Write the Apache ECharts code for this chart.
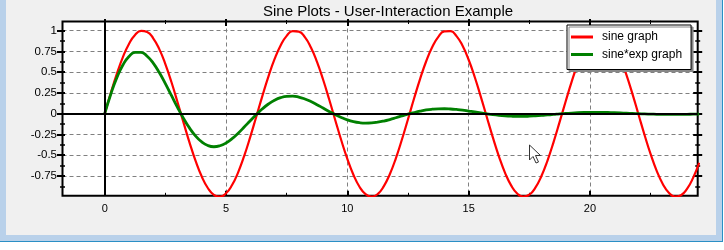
<!DOCTYPE html>
<html>
<head>
<meta charset="utf-8">
<script src="https://cdn.jsdelivr.net/npm/echarts@6/dist/echarts.min.js"></script>
<style>
html,body{margin:0;padding:0;background:#f0f0f0;}
#chart{width:724px;height:250px;}
</style>
</head>
<body>
<div id="chart"></div>
<script>
// ---- data ----
const xValues = [0,0.25,0.5,0.75,1,1.25,1.5,1.75,2,2.25,2.5,2.75,3,3.25,3.5,3.75,4,4.25,4.5,4.75,5,5.25,5.5,5.75,6,6.25,6.5,6.75,7,7.25,7.5,7.75,8,8.25,8.5,8.75,9,9.25,9.5,9.75,10,10.25,10.5,10.75,11,11.25,11.5,11.75,12,12.25,12.5,12.75,13,13.25,13.5,13.75,14,14.25,14.5,14.75,15,15.25,15.5,15.75,16,16.25,16.5,16.75,17,17.25,17.5,17.75,18,18.25,18.5,18.75,19,19.25,19.5,19.75,20,20.25,20.5,20.75,21,21.25,21.5,21.75,22,22.25,22.5,22.75,23,23.25,23.5,23.75,24,24.25,24.5];
const sineValues = [0,0.247,0.479,0.682,0.841,0.949,0.997,0.984,0.909,0.778,0.598,0.382,0.141,-0.108,-0.351,-0.572,-0.757,-0.895,-0.978,-0.999,-0.959,-0.859,-0.706,-0.508,-0.279,-0.033,0.215,0.450,0.657,0.823,0.938,0.995,0.989,0.923,0.798,0.625,0.412,0.174,-0.075,-0.320,-0.544,-0.735,-0.880,-0.970,-1.000,-0.968,-0.875,-0.729,-0.537,-0.311,-0.066,0.183,0.420,0.632,0.804,0.926,0.991,0.994,0.935,0.818,0.650,0.442,0.206,-0.042,-0.288,-0.516,-0.712,-0.863,-0.961,-1.000,-0.976,-0.891,-0.751,-0.564,-0.342,-0.099,0.150,0.390,0.605,0.784,0.913,0.986,0.996,0.946,0.837,0.675,0.471,0.239,-0.009,-0.256,-0.487,-0.688,-0.846,-0.952,-0.998,-0.982,-0.906,-0.773,-0.591];
const sineExpValues = [0,0.235,0.434,0.587,0.689,0.739,0.739,0.693,0.610,0.496,0.363,0.220,0.077,-0.056,-0.174,-0.270,-0.340,-0.383,-0.398,-0.386,-0.353,-0.301,-0.235,-0.161,-0.084,-0.010,0.059,0.117,0.162,0.193,0.209,0.211,0.200,0.177,0.146,0.109,0.068,0.027,-0.011,-0.045,-0.074,-0.095,-0.108,-0.113,-0.111,-0.102,-0.088,-0.070,-0.049,-0.027,-0.005,0.014,0.031,0.045,0.054,0.059,0.060,0.057,0.051,0.043,0.032,0.021,0.009,-0.002,-0.012,-0.020,-0.026,-0.030,-0.032,-0.032,-0.030,-0.026,-0.021,-0.015,-0.009,-0.002,0.003,0.008,0.012,0.015,0.017,0.017,0.017,0.015,0.013,0.010,0.006,0.003,0.000,-0.003,-0.005,-0.007,-0.009,-0.009,-0.009,-0.009,-0.007,-0.006,-0.004];
const seriesNames = ['sine graph', 'sine*exp graph'];
const titleText = 'Sine Plots - User-Interaction Example';
const xMajorTicks = [0,5,10,15,20];
const xMinorTicks = [2.5,7.5,12.5,17.5,22.5];
const yMajorTicks = [-0.75,-0.5,-0.25,0,0.25,0.5,0.75,1];
const yMinorTicks = [-0.875,-0.625,-0.375,-0.125,0.125,0.375,0.625,0.875];
const xRange = [-1.739, 24.44];
const yRange = [-0.989, 1.111];

const sineData = xValues.map((x, i) => [x, sineValues[i]]);
const sineExpData = xValues.map((x, i) => [x, sineExpValues[i]]);

const FONT = 'Liberation Sans';
const black = '#000';

function xAxisDef(pos, ticks, opts) {
  return Object.assign({
    type: 'value', position: pos, min: xRange[0], max: xRange[1], gridIndex: 0,
    axisLine: { show: false, onZero: false },
    axisTick: { show: true, customValues: ticks, inside: false, length: 5, lineStyle: { color: black, width: 2 } },
    axisLabel: { show: false },
    splitLine: { show: false }
  }, opts || {});
}
function yAxisDef(pos, ticks, opts) {
  return Object.assign({
    type: 'value', position: pos, min: yRange[0], max: yRange[1], gridIndex: 0,
    axisLine: { show: false, onZero: false },
    axisTick: { show: true, customValues: ticks, inside: false, length: 5, lineStyle: { color: black, width: 2 } },
    axisLabel: { show: false },
    splitLine: { show: false }
  }, opts || {});
}

const chart = echarts.init(document.getElementById('chart'), null, { renderer: 'canvas' });
chart.setOption({
  backgroundColor: '#f0f0f0',
  animation: false,
  title: {
    text: titleText, left: 383, top: -1, textAlign: 'center',
    textStyle: { fontFamily: FONT, fontSize: 15, fontWeight: 'normal', color: black }
  },
  grid: {
    left: 62.5, top: 21.5, width: 635.2, height: 174.3,
    show: true, backgroundColor: '#fff', borderColor: black, borderWidth: 2
  },
  legend: {
    data: seriesNames, orient: 'vertical', left: 567, top: 25,
    icon: 'rect', itemWidth: 22, itemHeight: 3, itemGap: 3.5,
    padding: [5, 9, 8, 4],
    backgroundColor: '#fff', borderColor: black, borderWidth: 1,
    shadowColor: '#888', shadowOffsetX: 2, shadowOffsetY: 2, shadowBlur: 0,
    textStyle: { fontFamily: FONT, fontSize: 12, color: black, lineHeight: 14, padding: [0, 0, 0, 4] }
  },
  xAxis: [
    xAxisDef('bottom', xMajorTicks, {
      axisTick: { show: true, customValues: xMajorTicks, inside: true, length: 5, lineStyle: { color: black, width: 2 } },
      axisLabel: { show: true, customValues: xMajorTicks, margin: 8, fontFamily: FONT, fontSize: 11, color: black },
      splitLine: { show: true, lineStyle: { color: '#808080', width: 1, type: [4, 3] } }
    }),
    xAxisDef('bottom', xMinorTicks, {
      axisTick: { show: true, customValues: xMinorTicks, inside: true, length: 3, lineStyle: { color: black, width: 1 } }
    }),
    xAxisDef('top', xMajorTicks, { offset: -4.5,
      axisTick: { show: true, customValues: xMajorTicks, length: 7, lineStyle: { color: black, width: 2 } } }),
    xAxisDef('top', xMinorTicks, { offset: -2.5,
      axisTick: { show: true, customValues: xMinorTicks, length: 4, lineStyle: { color: black, width: 1 } } })
  ],
  yAxis: [
    yAxisDef('left', yMajorTicks, { offset: -2.5,
      axisTick: { show: true, customValues: yMajorTicks, length: 8, lineStyle: { color: black, width: 2 } },
      axisLabel: { show: true, customValues: yMajorTicks, margin: 8, fontFamily: FONT, fontSize: 11.5, color: black },
      splitLine: { show: true, lineStyle: { color: '#808080', width: 1, type: [4, 3] } }
    }),
    yAxisDef('left', yMinorTicks, { offset: -2.5,
      axisTick: { show: true, customValues: yMinorTicks, length: 5, lineStyle: { color: black, width: 1.5 } } }),
    yAxisDef('right', yMajorTicks, { offset: -4.5,
      axisTick: { show: true, customValues: yMajorTicks, length: 9, lineStyle: { color: black, width: 2 } } }),
    yAxisDef('right', yMinorTicks, { offset: -2.5,
      axisTick: { show: true, customValues: yMinorTicks, length: 5, lineStyle: { color: black, width: 1.5 } } })
  ],
  series: [
    {
      name: seriesNames[0], type: 'line', data: sineData, smooth: true, showSymbol: false,
      xAxisIndex: 0, yAxisIndex: 0, clip: true,
      itemStyle: { color: '#ff0000' }, lineStyle: { color: '#ff0000', width: 2.2 }, z: 3
    },
    {
      name: seriesNames[1], type: 'line', data: sineExpData, smooth: true, showSymbol: false,
      xAxisIndex: 0, yAxisIndex: 0, clip: true,
      itemStyle: { color: '#008000' }, lineStyle: { color: '#008000', width: 2.8 }, z: 4,
      markLine: {
        silent: true, symbol: 'none', animation: false, z: 6,
        label: { show: false },
        lineStyle: { color: black, width: 2, type: 'solid' },
        data: [{ xAxis: 0 }, { yAxis: 0 }]
      }
    }
  ],
  graphic: [
    { type: 'rect', shape: { x: 0, y: 0, width: 6, height: 241 }, style: { fill: '#b9d1ea' }, silent: true },
    { type: 'rect', shape: { x: 716, y: 0, width: 6, height: 241 }, style: { fill: '#b9d1ea' }, silent: true },
    { type: 'rect', shape: { x: 0, y: 235, width: 722, height: 6 }, style: { fill: '#b9d1ea' }, silent: true },
    { type: 'rect', shape: { x: 0, y: 241, width: 723, height: 1 }, style: { fill: '#2a8fc5' }, silent: true },
    { type: 'rect', shape: { x: 722, y: 0, width: 1, height: 242 }, style: { fill: '#2a8fc5' }, silent: true },
    { type: 'rect', shape: { x: 0, y: 242, width: 724, height: 8 }, style: { fill: '#fff' }, silent: true },
    { type: 'rect', shape: { x: 723, y: 0, width: 1, height: 250 }, style: { fill: '#fff' }, silent: true },
    { type: 'polygon', silent: true, z: 100,
      shape: { points: [[529.5,145],[529.5,160],[533,156.5],[536,163],[538.5,162],[535.5,155.5],[540.5,155.5]] },
      style: { fill: '#fff', stroke: '#333', lineWidth: 1 } }
  ]
});
</script>
</body>
</html>
